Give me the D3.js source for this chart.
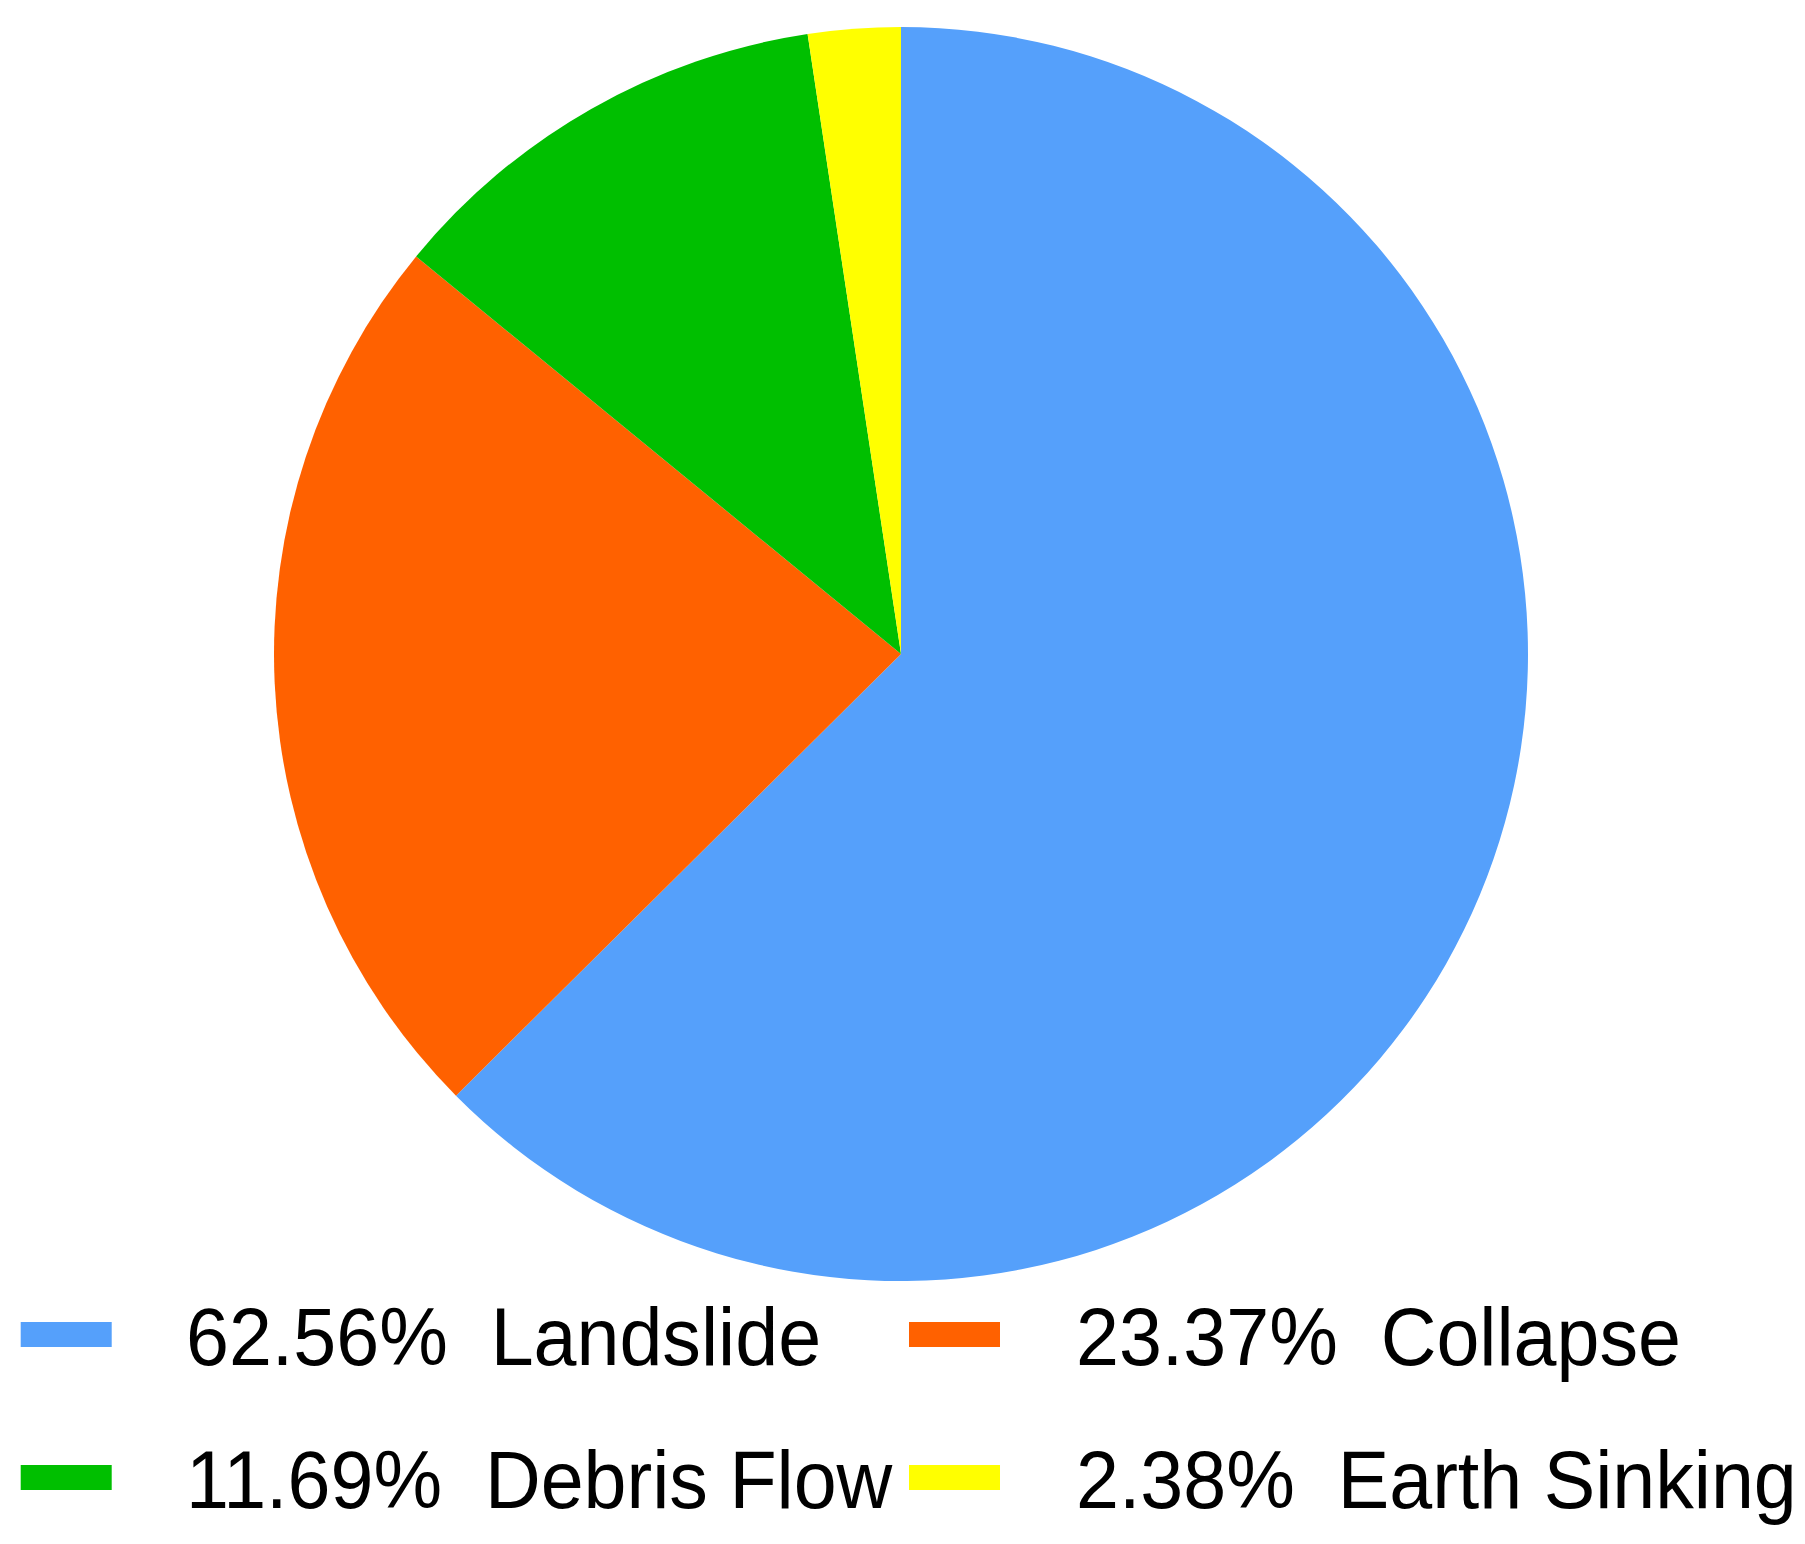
<!DOCTYPE html>
<html>
<head>
<meta charset="utf-8">
<script src="https://cdn.jsdelivr.net/npm/d3@7"></script>
<style>
  html, body { margin: 0; padding: 0; background: #fff; }
  svg { display: block; }
  text { font-family: "Liberation Sans", Arial, Helvetica, sans-serif; white-space: pre; }
</style>
</head>
<body>
<script>
const categories = ["Landslide", "Collapse", "Debris Flow", "Earth Sinking"];
const values = [62.56, 23.37, 11.69, 2.38];
const percentLabels = ["62.56%", "23.37%", "11.69%", "2.38%"];
const colors = ["#55A0FB", "#FF6100", "#00BF00", "#FFFF00"];

const W = 1805, H = 1544;
const cx = 901, cy = 654, R = 627;

const svg = d3.select("body").append("svg")
  .attr("width", W).attr("height", H);

const pie = d3.pie().sort(null).value(d => d.value).startAngle(0).endAngle(2 * Math.PI);
const arc = d3.arc().innerRadius(0).outerRadius(R);
const data = categories.map((c, i) => ({ name: c, value: values[i] }));
const color = d3.scaleOrdinal().domain(categories).range(colors);

svg.append("g").attr("transform", `translate(${cx},${cy})`)
  .selectAll("path").data(pie(data)).join("path")
  .attr("d", arc)
  .attr("fill", d => color(d.data.name));

// Legend: 2 columns x 2 rows
const colX = [20.7, 909];
const textX = [186, 1076];
const rowY = [1322, 1465];
const baseY = [1365, 1508];
const legend = svg.append("g");
data.forEach((d, i) => {
  const col = i % 2, row = Math.floor(i / 2);
  legend.append("rect")
    .attr("x", colX[col]).attr("y", rowY[row])
    .attr("width", 91).attr("height", 25)
    .attr("fill", color(d.name));
  legend.append("text")
    .attr("transform", `translate(${textX[col]},${baseY[row]}) scale(1,1.06)`)
    .attr("font-size", 77.2)
    .attr("fill", "#000")
    .text(percentLabels[i] + "\u00a0\u00a0" + d.name);
});
</script>
</body>
</html>
